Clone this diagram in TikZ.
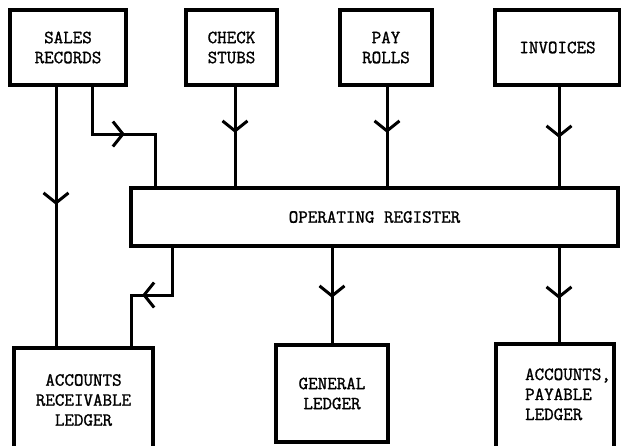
\documentclass[tikz,border=0pt]{standalone}
\usepackage{fontspec}
\newfontfamily\tw[FakeBold=1.3]{Latin Modern Mono}
\usetikzlibrary{arrows.meta,decorations.markings}
\begin{document}
\begin{tikzpicture}[x=1pt,y=-1pt,
  box/.style={draw, line width=3.6pt, inner sep=0pt, align=center,
    font={\tw\fontsize{18.5}{20}\selectfont}},
  conn/.style={line width=3pt},
  midarr/.style={postaction={decorate}, decoration={markings,
    mark=at position #1 with {\arrow{Straight Barb[length=10pt,width=25pt]}}}}
]
\useasboundingbox (0,0) rectangle (621,445);
% source boxes
\node[box, minimum width=116pt, minimum height=75pt] (sales) at (68,47.5) {SALES\\RECORDS};
\node[box, minimum width=91pt, minimum height=75pt] (check) at (231.5,47.5) {CHECK\\STUBS};
\node[box, minimum width=92pt, minimum height=75pt] (pay) at (386,47.5) {PAY\\ROLLS};
\node[box, minimum width=125pt, minimum height=75pt] (inv) at (557.5,47.5) {INVOICES};
% register
\node[box, minimum width=487pt, minimum height=58pt] (reg) at (374.5,217) {OPERATING REGISTER};
% ledgers
\node[box, minimum width=139pt, minimum height=104pt] (ar) at (83.5,400) {ACCOUNTS\\RECEIVABLE\\LEDGER};
\node[box, minimum width=112pt, minimum height=97pt] (gen) at (332,393.5) {GENERAL\\LEDGER};
\node[box, minimum width=118pt, minimum height=104pt] (ap) at (555,396)
  {\begin{tabular}{@{\hspace{26pt}}l@{}}ACCOUNTS,\\PAYABLE\\LEDGER\end{tabular}};
% connector coordinates
\coordinate (xa) at (56,0);
\coordinate (xc) at (235,0);
\coordinate (xp) at (387,0);
\coordinate (xi) at (559,0);
\coordinate (xg) at (332,0);
\coordinate (c1) at (155,134);
\coordinate (s2) at (92,0);
\coordinate (c2a) at (172,295);
\coordinate (c2) at (131,295);
% connectors
\draw[conn, midarr=118pt] (sales.south -| xa) -- (ar.north -| xa);
\draw[conn, midarr=80pt] (sales.south -| s2) |- (c1) -- (reg.north -| c1);
\draw[conn, midarr=46pt] (check.south -| xc) -- (reg.north -| xc);
\draw[conn, midarr=46pt] (pay.south -| xp) -- (reg.north -| xp);
\draw[conn, midarr=51pt] (inv.south -| xi) -- (reg.north -| xi);
\draw[conn, midarr=77pt] (reg.south -| c2a) -- (c2a) -- (c2) -- (ar.north -| c2);
\draw[conn, midarr=50pt] (reg.south -| xg) -- (gen.north -| xg);
\draw[conn, midarr=51pt] (reg.south -| xi) -- (ap.north -| xi);
\end{tikzpicture}
\end{document}
